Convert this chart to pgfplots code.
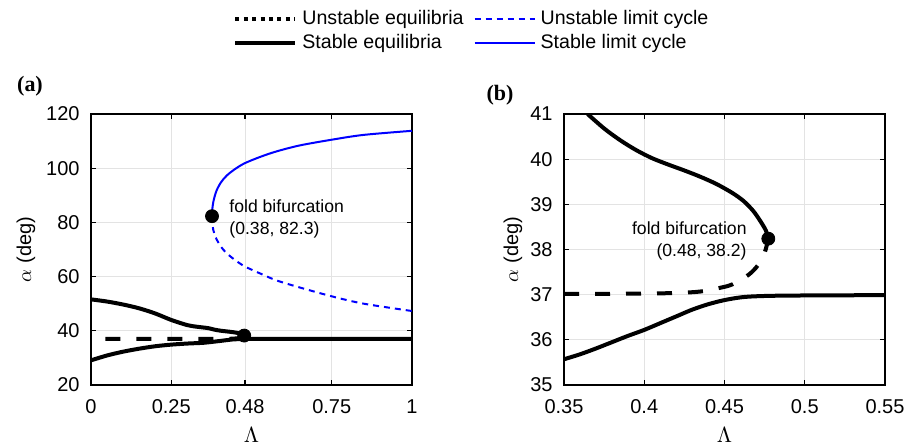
\documentclass[border=0pt]{standalone}
\usepackage{pgfplots}
\pgfplotsset{compat=1.18}
\usepackage{fontspec}
\setmainfont{Liberation Sans}
\newfontfamily\serifbf{Liberation Serif}
\begin{document}
\begin{tikzpicture}
\useasboundingbox (0,0) rectangle (458.5pt,223.5pt);
\pgfplotsset{
  myaxis/.style={
    anchor=south west,
    scale only axis, width=160.5pt, height=135.5pt,
    axis line style={line width=1pt},
    grid=major, major grid style={gray!22, line width=0.5pt},
    tick align=inside, major tick length=2.5pt,
    tick style={black, line width=0.6pt},
    ticklabel style={font=\fontsize{10}{12}\selectfont},
    /pgf/number format/assume math mode=true,
    yticklabel style={inner sep=0pt, xshift=-5.5pt, anchor=east},
    xticklabel style={inner sep=0pt, anchor=center, yshift=-11pt},
    xlabel style={font=\fontsize{11}{13}\selectfont, at={(axis description cs:0.5,-0.1845)}, anchor=center},
    ylabel style={font=\fontsize{10}{12}\selectfont, anchor=center},
  },
  stableq/.style={black, line width=2pt, smooth, tension=0.5, forget plot},
  unstableq/.style={black, line width=2pt, dash pattern=on 7.5pt off 8pt, smooth, tension=0.5, forget plot},
  stablelc/.style={blue, line width=1pt, smooth, tension=0.5, forget plot},
  unstablelc/.style={blue, line width=1pt, dash pattern=on 3pt off 2.5pt, smooth, tension=0.5, forget plot},
  fold/.style={only marks, mark=*, mark size=3.25pt, black, forget plot},
}
% ---------------- panel (a)
\begin{axis}[myaxis, at={(45.5pt,31pt)},
  xmin=0, xmax=1, ymin=20, ymax=120,
  xtick={0,0.25,0.48,0.75,1}, xticklabels={0,0.25,0.48,0.75,1},
  ytick={20,40,60,80,100,120},
  xlabel={$\Lambda$}, ylabel={$\alpha$ (deg)},
  ylabel style={at={(axis description cs:-0.2025,0.5)}},
  legend style={at={(axis description cs:0.4424,1.3838)}, anchor=north west,
    draw=none, fill=none, inner sep=0pt, legend columns=2,
    font=\fontsize{9.8}{11}\selectfont, row sep=3.5pt, column sep=2.5pt,
    /tikz/every even column/.append style={column sep=5pt},
    nodes={inner sep=0pt}},
  legend cell align=left,
  legend image code/.code={\draw[#1] (0pt,0pt) -- (30pt,0pt);},
]
\addlegendimage{black, line width=2pt, dash pattern=on 2pt off 2.2pt}
\addlegendentry{Unstable equilibria}
\addlegendimage{blue, line width=1pt, dash pattern=on 3pt off 2.5pt}
\addlegendentry{Unstable limit cycle}
\addlegendimage{black, line width=2pt}
\addlegendentry{Stable equilibria}
\addlegendimage{blue, line width=1pt}
\addlegendentry{Stable limit cycle}

\addplot[stablelc] coordinates {
 (0.377,82.3) (0.378,85) (0.381,87.5) (0.385,89.5) (0.392,92) (0.405,94.8)
 (0.423,97.3) (0.45,99.8) (0.48,101.9) (0.53,104.3) (0.578,106.2)
 (0.65,108.4) (0.754,110.6) (0.85,112.3) (1,113.8)};
\addplot[unstablelc] coordinates {
 (0.377,82.3) (0.378,79.5) (0.381,77.2) (0.385,75.5) (0.392,73.6) (0.405,71)
 (0.423,68.6) (0.45,66) (0.48,63.7) (0.53,61) (0.578,58.6)
 (0.65,56) (0.754,52.6) (0.85,50) (1,47.3)};
\addplot[unstableq] coordinates {
 (0.045,37.0) (0.2,37.01) (0.38,37.02) (0.42,37.04) (0.435,37.07)
 (0.447,37.15) (0.455,37.21) (0.465,37.44) (0.471,37.66) (0.4752,37.95)
 (0.4773,38.24)};
\addplot[stableq] coordinates {
 (0,51.6) (0.05,50.8) (0.1,49.7) (0.15,48.3) (0.2,46.4) (0.25,44.0)
 (0.3,42.1) (0.33,41.5) (0.3647,41.0) (0.385,40.42) (0.405,40.02)
 (0.425,39.75) (0.445,39.45) (0.462,39.07) (0.4725,38.62) (0.4773,38.24)};
\addplot[stableq] coordinates {
 (0,29.1) (0.05,30.9) (0.1,32.3) (0.15,33.4) (0.2,34.3) (0.25,34.9)
 (0.3,35.3) (0.35,35.57) (0.38,35.95) (0.41,36.37) (0.44,36.79)
 (0.46,36.94) (0.49,36.98) (0.6,36.99) (1,37.0)};
\addplot[fold] coordinates {(0.377,82.3) (0.4773,38.24)};
\node[anchor=west, align=left, inner sep=0pt, font=\fontsize{8.8}{11}\selectfont]
  at (axis cs:0.43,81.25) {fold bifurcation\\(0.38, 82.3)};
\end{axis}
% ---------------- panel (b)
\begin{axis}[myaxis, at={(282pt,31pt)},
  xmin=0.35, xmax=0.55, ymin=35, ymax=41,
  xtick={0.35,0.4,0.45,0.5,0.55}, xticklabels={0.35,0.4,0.45,0.5,0.55},
  ytick={35,36,37,38,39,40,41},
  xlabel={$\Lambda$}, ylabel={$\alpha$ (deg)},
  ylabel style={at={(axis description cs:-0.159,0.5)}},
]
\addplot[unstableq] coordinates {
 (0.35,37.02) (0.38,37.02) (0.41,37.03) (0.4223,37.04) (0.435,37.07)
 (0.447,37.15) (0.455,37.23) (0.465,37.44) (0.471,37.66) (0.4752,37.95)
 (0.4773,38.24)};
\addplot[stableq] coordinates {
 (0.3647,41.0) (0.375,40.68) (0.385,40.42) (0.395,40.2) (0.405,40.02)
 (0.415,39.88) (0.425,39.75) (0.435,39.61) (0.445,39.45) (0.455,39.25)
 (0.462,39.07) (0.468,38.85) (0.4725,38.62) (0.4758,38.42) (0.4773,38.24)};
\addplot[stableq] coordinates {
 (0.35,35.57) (0.36,35.68) (0.37,35.81) (0.38,35.95) (0.39,36.09)
 (0.40,36.22) (0.41,36.37) (0.42,36.52) (0.43,36.67) (0.44,36.79)
 (0.45,36.88) (0.46,36.94) (0.47,36.965) (0.49,36.98) (0.55,36.99)};
\addplot[fold] coordinates {(0.4773,38.24)};
\node[anchor=east, align=right, inner sep=0pt, font=\fontsize{8.8}{11}\selectfont]
  at (axis cs:0.464,38.18) {fold bifurcation\\(0.48, 38.2)};
\end{axis}
\node[font=\serifbf\bfseries\fontsize{11}{13}\selectfont] at (15pt,180.5pt) {(a)};
\node[font=\serifbf\bfseries\fontsize{11}{13}\selectfont] at (250pt,176pt) {(b)};
\end{tikzpicture}
\end{document}
